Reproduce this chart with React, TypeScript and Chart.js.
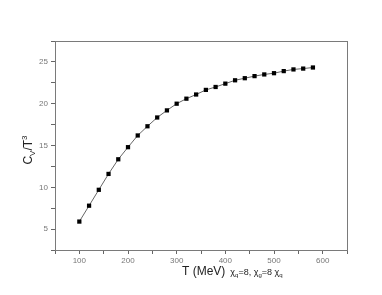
import React, { useEffect, useRef } from "react";
import { Chart, registerables } from "chart.js";
Chart.register(...registerables);

const temps = [100,120,140,160,180,200,220,240,260,280,300,320,340,360,380,400,420,440,460,480,500,520,540,560,580];
const cvT3 = [5.9,7.8,9.7,11.6,13.35,14.8,16.2,17.3,18.35,19.2,20.0,20.6,21.1,21.65,22.0,22.4,22.8,23.05,23.3,23.5,23.65,23.9,24.1,24.2,24.33];
const xMajor = [100,200,300,400,500,600];
const yMajor = [5,10,15,20,25];

const FONT = "'Liberation Sans', Arial, sans-serif";

function drawRich(ctx: CanvasRenderingContext2D, parts: {t: string; s: number; dy: number}[], x: number, y: number) {
  let cx = x;
  for (const p of parts) {
    ctx.font = `${p.s}px ${FONT}`;
    ctx.fillText(p.t, cx, y + p.dy);
    cx += ctx.measureText(p.t).width;
  }
}

const framePlugin = {
  id: "frame",
  afterDraw(chart: any) {
    const { ctx, chartArea: a } = chart;
    ctx.save();
    ctx.strokeStyle = "#7a7a7a";
    ctx.lineWidth = 1;
    ctx.strokeRect(Math.round(a.left) + 0.5, Math.round(a.top) + 0.5, Math.round(a.right - a.left), Math.round(a.bottom - a.top));
    ctx.fillStyle = "#222";
    ctx.textBaseline = "alphabetic";
    // x title
    drawRich(ctx, [
      { t: "T (MeV)", s: 12, dy: 0 },
      { t: "  χ", s: 9, dy: 0 },
      { t: "q", s: 6, dy: 2 },
      { t: "=8, χ", s: 9, dy: 0 },
      { t: "g", s: 6, dy: 2 },
      { t: "=8 χ", s: 9, dy: 0 },
      { t: "q", s: 6, dy: 2 },
    ], 182, 275);
    // y title
    ctx.translate(32, 150);
    ctx.rotate(-Math.PI / 2);
    const parts = [
      { t: "C", s: 12, dy: 0 },
      { t: "V", s: 8, dy: 3 },
      { t: "/T", s: 12, dy: 0 },
      { t: "3", s: 8, dy: -5 },
    ];
    let w = 0;
    for (const p of parts) { ctx.font = `${p.s}px ${FONT}`; w += ctx.measureText(p.t).width; }
    drawRich(ctx, parts, -w / 2, 0);
    ctx.restore();
  },
};

export default function App() {
  const ref = useRef<HTMLCanvasElement>(null);
  useEffect(() => {
    document.body.style.margin = "0";
    const chart = new Chart(ref.current!, {
      type: "line",
      data: {
        datasets: [{
          data: temps.map((t, i) => ({ x: t, y: cvT3[i] })),
          borderColor: "#666",
          borderWidth: 1,
          pointStyle: "rect",
          pointRadius: 3,
          pointBackgroundColor: "#000",
          pointBorderColor: "#000",
          pointBorderWidth: 0,
          tension: 0,
        }],
      },
      options: {
        animation: false,
        responsive: false,
        plugins: { legend: { display: false }, tooltip: { enabled: false } },
        layout: { padding: { left: 28, right: 35, top: 41, bottom: 25 } },
        scales: {
          x: {
            type: "linear",
            min: 50, max: 650,
            border: { display: false },
            grid: { drawOnChartArea: false, tickLength: 4, tickColor: "#666" },
            ticks: {
              stepSize: 50, autoSkip: false, maxRotation: 0, padding: 2,
              color: "#777", font: { size: 8, family: FONT },
              callback: (v: any) => (xMajor.includes(Number(v)) ? String(v) : ""),
            },
            afterFit: (s: any) => { s.height = 20; },
          },
          y: {
            type: "linear",
            min: 2.5, max: 27.5,
            border: { display: false },
            grid: { drawOnChartArea: false, tickLength: 4, tickColor: "#666" },
            ticks: {
              stepSize: 2.5, autoSkip: false, padding: 3,
              color: "#777", font: { size: 8, family: FONT },
              callback: (v: any) => (yMajor.includes(Number(v)) ? String(v) : ""),
            },
            afterFit: (s: any) => { s.width = 27; },
          },
        },
      },
      plugins: [framePlugin],
    });
    return () => chart.destroy();
  }, []);
  return (
    <div style={{ width: 382, height: 295, background: "#fff" }}>
      <canvas ref={ref} width={382} height={295} />
    </div>
  );
}
